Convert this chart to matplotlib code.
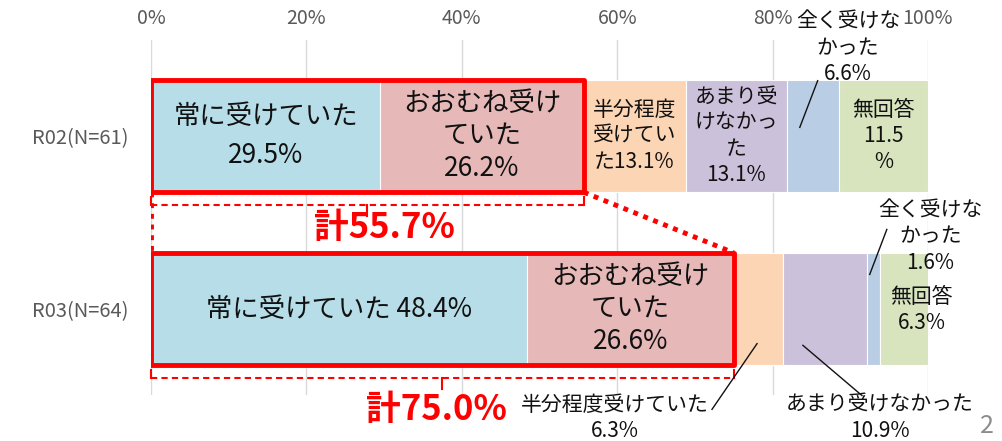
import numpy as np
import matplotlib
matplotlib.use("Agg")
import matplotlib.pyplot as plt
from matplotlib.patches import Rectangle

plt.rcParams['font.family'] = ['Noto Sans CJK JP', 'DejaVu Sans']

# data
groups = ["R02(N=61)", "R03(N=64)"]
categories = ["常に受けていた", "おおむね受けていた", "半分程度受けていた",
              "あまり受けなかった", "全く受けなかった", "無回答"]
values = [
    [29.5, 26.2, 13.1, 13.1, 6.6, 11.5],
    [48.4, 26.6, 6.3, 10.9, 1.6, 6.3],
]
colors = ["#B7DDE8", "#E6B9B8", "#FCD5B5", "#CCC1DA", "#B9CDE5", "#D7E4BD"]
ticks = [0, 20, 40, 60, 80, 100]
tick_labels = ["0%", "20%", "40%", "60%", "80%", "100%"]
totals = ["計55.7%", "計75.0%"]

# in-bar labels (None = placed outside with a leader)
inbar = [
    ["常に受けていた\n29.5%", "おおむね受け\nていた\n26.2%", "半分程度\n受けてい\nた13.1%",
     "あまり受\nけなかっ\nた\n13.1%", None, "無回答\n11.5\n%"],
    ["常に受けていた 48.4%", "おおむね受け\nていた\n26.6%", None, None, None, None],
]

W, H = 1002, 441
fig = plt.figure(figsize=(W / 100, H / 100), dpi=100)
ax = fig.add_axes([151 / W, (H - 395) / H, 777 / W, 355 / H])

bar_h = 0.65
ypos = np.arange(len(groups))
for gi, row in enumerate(values):
    left = 0
    for ci, v in enumerate(row):
        ax.barh(ypos[gi], v, left=left, height=bar_h, color=colors[ci],
                edgecolor="white", linewidth=0.8, zorder=2)
        lab = inbar[gi][ci]
        if lab is not None:
            big = ci < 2
            ax.text(left + v / 2, ypos[gi], lab, ha="center", va="center",
                    fontsize=19 if big else 15, linespacing=1.25 if not (big and lab.count("\n") == 1) else 1.6,
                    color="#111111", zorder=4)
        left += v

ax.set_xlim(0, 100)
ax.set_ylim(1.497, -0.555)
ax.set_xticks(ticks)
ax.set_xticklabels(tick_labels)
ax.xaxis.tick_top()
ax.tick_params(axis="x", length=0, pad=8, labelsize=14, labelcolor="#595959")
ax.set_yticks(ypos)
ax.set_yticklabels(groups)
ax.tick_params(axis="y", length=0, pad=16, labelsize=14.5, labelcolor="#595959")
ax.grid(axis="x", color="#D9D9D9", linewidth=1, zorder=0)
ax.set_axisbelow(True)
for s in ax.spines.values():
    s.set_visible(False)

# red highlight boxes, brackets and totals
red = "#FF0000"
tot_vals = [sum(r[:2]) for r in values]
tot_x = [30.0, 36.8]
tot_y = [0.53, 1.58]
for gi in range(len(groups)):
    y0 = ypos[gi]
    t = tot_vals[gi]
    ax.add_patch(Rectangle((0, y0 - bar_h / 2), t, bar_h, fill=False,
                           edgecolor=red, linewidth=3.5, joinstyle="round", zorder=5))
    yb = y0 + 0.40
    ax.plot([0, t], [yb, yb], color=red, lw=1.5, ls=(0, (3, 2)), zorder=5, clip_on=False)
    ax.plot([0, 0], [yb - 0.05, yb], color=red, lw=1.5, zorder=5, clip_on=False)
    ax.plot([t, t], [yb - 0.05, yb], color=red, lw=1.5, zorder=5, clip_on=False)
    ax.plot([t / 2, t / 2], [yb, yb + 0.06], color=red, lw=1.5, zorder=5, clip_on=False)
    ax.text(tot_x[gi], tot_y[gi], totals[gi], ha="center", va="center",
            fontsize=25, fontweight="bold", color=red, zorder=6)

# dotted connectors between the two boxes
ax.plot([0, 0], [ypos[0] + bar_h / 2, ypos[1] - bar_h / 2], color=red, lw=3.5,
        ls=(0, (1, 1.2)), zorder=5)
ax.plot([tot_vals[0], tot_vals[1]], [ypos[0] + bar_h / 2, ypos[1] - bar_h / 2],
        color=red, lw=3.5, ls=(0, (1, 1.2)), zorder=5)

# outside labels with leader lines
lc = "#111111"
ax.text(89.7, -0.51, "全く受けな\nかった\n6.6%", ha="center", va="center",
        fontsize=15, linespacing=1.25, color=lc, zorder=6)
ax.plot([83.5, 85.8], [-0.05, -0.32], color=lc, lw=1, zorder=6, clip_on=False)

ax.text(100.3, 0.58, "全く受けな\nかった\n1.6%", ha="center", va="center",
        fontsize=15, linespacing=1.25, color=lc, zorder=6)
ax.plot([92.5, 94.7], [0.80, 0.54], color=lc, lw=1, zorder=6, clip_on=False)

ax.text(99.2, 1.005, "無回答\n6.3%", ha="center", va="center",
        fontsize=15, linespacing=1.25, color=lc, zorder=6)

ax.text(59.7, 1.63, "半分程度受けていた\n6.3%", ha="center", va="center",
        fontsize=15, linespacing=1.25, color=lc, zorder=6)
ax.plot([72.2, 78.0], [1.58, 1.20], color=lc, lw=1, zorder=6, clip_on=False)

ax.text(93.8, 1.63, "あまり受けなかった\n10.9%", ha="center", va="center",
        fontsize=15, linespacing=1.25, color=lc, zorder=6)
ax.plot([83.9, 91.5], [1.21, 1.50], color=lc, lw=1, zorder=6, clip_on=False)

# page number
fig.text(980 / W, 1 - 426 / H, "2", fontsize=18, color="#8C8C8C", ha="left", va="center")

fig.savefig("out.png", dpi=100)
